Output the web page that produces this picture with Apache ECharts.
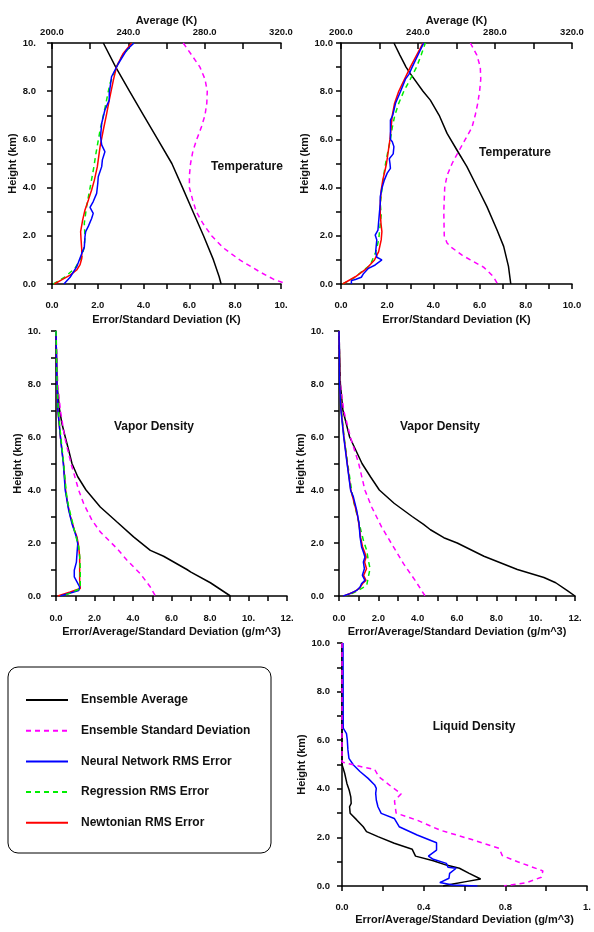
<!DOCTYPE html>
<html>
<head>
<meta charset="utf-8">
<script src="https://cdn.jsdelivr.net/npm/echarts@6/dist/echarts.min.js"></script>
<style>html,body{margin:0;padding:0;background:#fff}#c{width:594px;height:932px}</style>
</head>
<body>
<div id="c"></div>
<script>
// ---------------- DATA ----------------
const seriesNames = ['Ensemble Average', 'Ensemble Standard Deviation', 'Neural Network RMS Error', 'Regression RMS Error', 'Newtonian RMS Error'];
const panelTitles = ['Temperature', 'Temperature', 'Vapor Density', 'Vapor Density', 'Liquid Density'];

// tick labels
const tlErrTicks = ['0.0', '2.0', '4.0', '6.0', '8.0', '10.'];
const trErrTicks = ['0.0', '2.0', '4.0', '6.0', '8.0', '10.0'];
const avgKTicks = ['200.0', '240.0', '280.0', '320.0'];
const vaporTicks = ['0.0', '2.0', '4.0', '6.0', '8.0', '10.', '12.'];
const liquidTicks = ['0.0', '0.4', '0.8', '1.'];
const heightTicksA = ['0.0', '2.0', '4.0', '6.0', '8.0', '10.'];
const heightTicksB = ['0.0', '2.0', '4.0', '6.0', '8.0', '10.0'];

// Temperature, left panel
const tlAvgH = [10, 9, 8, 7, 6, 5, 4, 3, 2, 1, 0.3, 0];
const tlAvgK = [226.9, 233.4, 240.6, 248.0, 255.4, 262.8, 268.4, 273.9, 279.4, 284.6, 287.6, 288.6];
const tlStdH = [10, 9.5, 9, 8.5, 8, 7.5, 7, 6.5, 6, 5.5, 5, 4.5, 4, 3.5, 3, 2.5, 2, 1.5, 1, 0.5, 0.2, 0.05, 0];
const tlStd = [5.73, 6.1, 6.46, 6.68, 6.78, 6.76, 6.68, 6.52, 6.32, 6.15, 6.05, 6.0, 6.0, 6.14, 6.3, 6.6, 6.97, 7.48, 8.2, 9.08, 9.67, 10.1, 10.6];
const tlNnH = [0, 0.28, 0.72, 0.89, 1.27, 1.52, 1.96, 2.17, 2.4, 2.72, 2.93, 3.18, 3.42, 3.76, 4.18, 4.45, 4.87, 5.15, 5.49, 5.77, 6.12, 6.67, 7.22, 7.63, 7.91, 8.6, 9.15, 9.71, 10];
const tlNn = [0.52, 0.79, 1.08, 1.15, 1.3, 1.41, 1.44, 1.47, 1.59, 1.73, 1.8, 1.66, 1.8, 1.95, 2.0, 2.02, 2.17, 2.2, 2.31, 2.17, 2.12, 2.17, 2.31, 2.5, 2.5, 2.6, 2.9, 3.26, 3.58];
const tlRegH = [0, 0.3, 0.65, 1.13, 1.55, 1.96, 2.52, 3.21, 3.62, 4.18, 4.87, 5.42, 6.39, 7.29, 8.32, 9.02, 9.43, 10];
const tlReg = [0.06, 0.57, 1.0, 1.3, 1.41, 1.44, 1.41, 1.51, 1.59, 1.7, 1.83, 1.92, 2.1, 2.31, 2.53, 2.82, 3.04, 3.55];
const tlNewH = [0, 0.17, 0.37, 0.58, 0.79, 1.06, 1.41, 1.83, 2.17, 2.66, 3.07, 3.49, 3.9, 4.31, 4.87, 5.15, 5.7, 6.39, 7.08, 7.63, 8.46, 9.02, 9.57, 10];
const tlNew = [0.1, 0.42, 0.79, 1.08, 1.22, 1.3, 1.3, 1.27, 1.25, 1.34, 1.44, 1.59, 1.73, 1.85, 1.98, 2.02, 2.1, 2.24, 2.39, 2.5, 2.68, 2.82, 3.11, 3.48];

// Temperature, right panel
const trAvgH = [10, 9.5, 9, 8.73, 8, 7.63, 7, 6.25, 5.56, 4.87, 3.9, 3.21, 2.25, 1.56, 0.73, 0];
const trAvgK = [227.5, 230.6, 233.8, 236.0, 242.6, 246.4, 251.0, 255.1, 260.2, 265.4, 271.5, 275.8, 281.0, 284.5, 287.0, 288.2];
const trStdH = [10, 9.5, 9, 8.5, 8, 7.5, 7, 6.5, 6, 5.5, 5, 4.5, 4, 3, 2, 1.7, 1.5, 1.2, 1, 0.7, 0.5, 0.3, 0];
const trStd = [5.6, 5.88, 6.03, 6.05, 6.0, 5.92, 5.81, 5.67, 5.38, 5.09, 4.81, 4.59, 4.49, 4.45, 4.47, 4.59, 4.81, 5.24, 5.6, 6.17, 6.39, 6.6, 6.78];
const trNnH = [0, 0.14, 0.19, 0.28, 0.44, 0.65, 0.72, 0.79, 1.0, 1.11, 1.34, 1.83, 2.03, 2.24, 2.59, 3.35, 3.62, 3.97, 4.32, 4.6, 4.8, 5.0, 5.2, 5.4, 5.7, 5.9, 6.0, 6.8, 7.0, 7.5, 8.0, 8.5, 8.7, 9.0, 10];
const trNn = [0.45, 0.45, 0.62, 0.88, 0.98, 1.19, 1.19, 1.48, 1.77, 1.55, 1.5, 1.55, 1.48, 1.6, 1.63, 1.7, 1.7, 1.77, 1.88, 2.0, 2.14, 2.12, 2.09, 2.26, 2.29, 2.22, 2.14, 2.14, 2.24, 2.36, 2.58, 2.79, 2.94, 3.08, 3.58];
const trRegH = [0, 0.24, 0.51, 0.79, 1.34, 1.83, 2.86, 3.35, 3.9, 4.45, 5, 5.5, 6, 6.5, 7, 7.5, 8, 8.5, 9, 9.5, 10];
const trReg = [0.07, 0.55, 0.9, 1.27, 1.51, 1.63, 1.74, 1.7, 1.77, 1.84, 1.93, 2.03, 2.14, 2.22, 2.33, 2.5, 2.72, 3.0, 3.27, 3.47, 3.65];
const trNewH = [0, 0.3, 0.65, 1.0, 1.34, 1.83, 2.17, 2.52, 2.93, 3.35, 3.9, 4.32, 4.73, 5, 6, 6.5, 7, 7.5, 8, 9, 10];
const trNew = [0.07, 0.62, 1.12, 1.45, 1.63, 1.74, 1.77, 1.73, 1.7, 1.7, 1.74, 1.81, 1.91, 1.97, 2.12, 2.17, 2.22, 2.32, 2.5, 3.0, 3.55];

// Vapor density, left panel
const mlAvgH = [10, 8, 7, 6.5, 6, 5.5, 5, 4.5, 4, 3.36, 2.79, 2.23, 1.72, 1.5, 1, 0.9, 0.5, 0];
const mlAvg = [0, 0.05, 0.19, 0.31, 0.48, 0.66, 0.83, 1.13, 1.56, 2.3, 3.17, 4.03, 4.9, 5.59, 6.8, 7.01, 8.02, 9.06];
const mlStdH = [10, 8, 7, 6, 5, 3.99, 3.48, 2.86, 2.42, 1.79, 1.35, 0.84, 0.34, 0];
const mlStd = [0, 0.09, 0.23, 0.45, 0.78, 1.18, 1.44, 1.87, 2.3, 3.17, 3.69, 4.38, 4.9, 5.16];
const mlNnH = [10, 8, 7, 6, 5, 3.99, 3.74, 3.23, 2.73, 2.23, 1.97, 1.6, 1.28, 0.97, 0.72, 0.53, 0.34, 0.21, 0];
const mlNn = [0, 0.05, 0.1, 0.23, 0.38, 0.48, 0.54, 0.66, 0.83, 1.06, 1.13, 1.09, 1.06, 0.95, 0.95, 1.09, 1.23, 1.18, 0.23];
const mlRegH = [10, 8, 7, 6, 5, 3.86, 3.36, 2.86, 2.35, 1.85, 1.5, 1.0, 0.5, 0.28, 0.11, 0];
const mlReg = [0, 0.06, 0.12, 0.25, 0.4, 0.54, 0.66, 0.83, 1.0, 1.18, 1.23, 1.26, 1.26, 1.26, 0.74, 0.31];
const mlNewH = [10, 8, 7, 6, 5, 4, 3.5, 3, 2.5, 2.23, 1.85, 1.47, 0.97, 0.59, 0.28, 0.15, 0];
const mlNew = [0, 0.05, 0.1, 0.23, 0.39, 0.5, 0.6, 0.75, 0.95, 1.09, 1.18, 1.23, 1.23, 1.23, 1.26, 0.74, 0.09];

// Vapor density, right panel
const mrAvgH = [10, 8, 7, 6, 5, 4.5, 4, 3.5, 3, 2.7, 2.5, 2.2, 2, 1.5, 1, 0.7, 0.5, 0.2, 0];
const mrAvg = [0, 0.07, 0.2, 0.54, 1.17, 1.6, 2.05, 2.8, 3.72, 4.3, 4.65, 5.33, 6.01, 7.37, 9.07, 10.42, 11.02, 11.61, 12.0];
const mrStdH = [10, 8, 7, 6, 5, 3.99, 3.36, 2.6, 1.85, 1.22, 0.59, 0];
const mrStd = [0, 0.07, 0.24, 0.58, 1.0, 1.32, 1.66, 2.17, 2.77, 3.28, 3.87, 4.38];
const mrNnH = [10, 8, 7, 6, 5, 3.99, 3.74, 3.23, 2.73, 2.23, 1.85, 1.66, 1.47, 1.28, 1.03, 0.78, 0.59, 0.47, 0.34, 0.21, 0.09, 0];
const mrNn = [0, 0.03, 0.1, 0.24, 0.41, 0.59, 0.73, 0.9, 1.02, 1.07, 1.15, 1.24, 1.32, 1.24, 1.29, 1.19, 1.32, 1.15, 1.07, 0.9, 0.56, 0.22];
const mrRegH = [10, 8, 7, 6, 5, 3.99, 3.61, 3.11, 2.6, 2.1, 1.72, 1.35, 1.03, 0.72, 0.4, 0.21, 0.09, 0];
const mrReg = [0, 0.05, 0.12, 0.26, 0.44, 0.64, 0.73, 0.9, 1.07, 1.24, 1.41, 1.49, 1.58, 1.49, 1.41, 0.98, 0.65, 0.31];
const mrNewH = [10, 8, 7, 6, 5, 4, 3.5, 3, 2.5, 2.2, 1.85, 1.66, 1.47, 1.28, 1.03, 0.78, 0.59, 0.47, 0.3, 0.15, 0];
const mrNew = [0, 0.04, 0.11, 0.25, 0.42, 0.6, 0.78, 0.95, 1.05, 1.1, 1.2, 1.3, 1.38, 1.3, 1.4, 1.25, 1.37, 1.2, 1.05, 0.75, 0.25];

// Liquid density
const brAvgH = [10, 5.0, 4.64, 4.22, 3.95, 3.67, 3.4, 3.26, 2.99, 2.72, 2.44, 2.24, 2.03, 1.76, 1.51, 1.23, 1.04, 0.86, 0.73, 0.52, 0.29, 0.18, 0.08, 0];
const brAvg = [0, 0, 0.013, 0.024, 0.035, 0.043, 0.045, 0.037, 0.04, 0.072, 0.104, 0.12, 0.176, 0.256, 0.344, 0.36, 0.447, 0.511, 0.575, 0.623, 0.679, 0.607, 0.543, 0.495];
const brStdH = [10, 5.1, 4.9, 4.8, 4.5, 4.1, 3.8, 3.5, 3.0, 2.7, 2.3, 1.9, 1.55, 1.25, 1.0, 0.62, 0.36, 0.14, 0];
const brStd = [0, 0, 0.1, 0.16, 0.18, 0.24, 0.29, 0.257, 0.265, 0.37, 0.48, 0.64, 0.77, 0.785, 0.86, 0.984, 0.976, 0.904, 0.793];
const brNnH = [10, 6.5, 6.27, 6.0, 5.6, 5.25, 4.98, 4.71, 4.43, 4.16, 4.02, 3.81, 3.54, 3.26, 2.99, 2.78, 2.44, 2.1, 1.78, 1.48, 1.23, 1.1, 0.93, 0.77, 0.73, 0.52, 0.32, 0.14, 0.08, 0.04, 0];
const brNn = [0.005, 0.006, 0.022, 0.026, 0.029, 0.034, 0.056, 0.088, 0.128, 0.16, 0.168, 0.165, 0.168, 0.176, 0.192, 0.256, 0.28, 0.368, 0.463, 0.463, 0.423, 0.447, 0.511, 0.519, 0.559, 0.527, 0.524, 0.479, 0.471, 0.543, 0.663];

// ---------------- CHART ----------------
const FONT = '"Liberation Sans", Arial, Helvetica, sans-serif';
const INK = '#111';
const COLORS = ['#000000', '#ff00ff', '#0000ff', '#00ee00', '#ff0000'];

function fmt(labels, base, step) {
  return function (v) {
    const i = Math.round((v - base) / step);
    return (Math.abs(v - base - i * step) < 1e-6 && i >= 0 && i < labels.length) ? labels[i] : '';
  };
}
const labelStyle = { color: INK, fontSize: 9.5, fontWeight: 'bold', fontFamily: FONT };
const nameStyle = { color: INK, fontSize: 11, fontWeight: 'bold', fontFamily: FONT };
const lineAx = { show: true, onZero: false, lineStyle: { color: '#000', width: 1.5 } };

function xAxisBottom(grid, max, interval, labels, step, name, margin, gap) {
  return {
    type: 'value', gridIndex: grid, position: 'bottom', min: 0, max: max, interval: interval,
    axisLine: lineAx,
    axisTick: { show: true, length: 5, lineStyle: { color: '#000', width: 1.5 } },
    axisLabel: Object.assign({ formatter: fmt(labels, 0, step), margin: margin }, labelStyle),
    splitLine: { show: false },
    name: name, nameLocation: 'middle', nameGap: gap, nameTextStyle: nameStyle
  };
}
function xAxisTop(grid) {
  return {
    type: 'value', gridIndex: grid, position: 'top', min: 200, max: 320, interval: 20,
    axisLine: lineAx,
    axisTick: { show: true, inside: true, length: 6, lineStyle: { color: '#000', width: 1.5 } },
    axisLabel: Object.assign({ formatter: fmt(avgKTicks, 200, 40), margin: 6 }, labelStyle),
    splitLine: { show: false },
    name: 'Average (K)', nameLocation: 'middle', nameGap: 17, nameTextStyle: nameStyle
  };
}
function yAxisLeft(grid, labels, margin, gap) {
  return {
    type: 'value', gridIndex: grid, position: 'left', min: 0, max: 10, interval: 1,
    axisLine: lineAx,
    axisTick: { show: true, length: 5, lineStyle: { color: '#000', width: 1.5 } },
    axisLabel: Object.assign({ formatter: fmt(labels, 0, 2), margin: margin }, labelStyle),
    splitLine: { show: false },
    name: 'Height (km)', nameLocation: 'middle', nameGap: gap, nameTextStyle: nameStyle
  };
}

function line(k, xi, yi, hs, vs, extra) {
  const dashed = (k === 1 || k === 3);
  return Object.assign({
    name: seriesNames[k], type: 'line', xAxisIndex: xi, yAxisIndex: yi,
    data: hs.map(function (h, i) { return [vs[i], h]; }),
    symbol: 'none', showSymbol: false, silent: true, animation: false,
    lineStyle: { color: COLORS[k], width: 1.5, type: dashed ? [5, 4] : 'solid' },
    itemStyle: { color: COLORS[k] }
  }, extra || {});
}

const option = {
  backgroundColor: '#fff',
  animation: false,
  grid: [
    { left: 52, top: 43, width: 229, height: 241 },
    { left: 341, top: 43, width: 231, height: 241 },
    { left: 56, top: 331, width: 231, height: 265 },
    { left: 339, top: 331, width: 236, height: 265 },
    { left: 342, top: 643, width: 250, height: 243 }
  ],
  xAxis: [
    xAxisBottom(0, 10, 1, tlErrTicks, 2, 'Error/Standard Deviation (K)', 16, 30),
    xAxisTop(0),
    xAxisBottom(1, 10, 1, trErrTicks, 2, 'Error/Standard Deviation (K)', 16, 30),
    xAxisTop(1),
    xAxisBottom(2, 12, 1, vaporTicks, 2, 'Error/Average/Standard Deviation (g/m^3)', 17, 30),
    xAxisBottom(3, 12, 1, vaporTicks, 2, 'Error/Average/Standard Deviation (g/m^3)', 17, 30),
    xAxisBottom(4, 1.2, 0.2, liquidTicks, 0.4, 'Error/Average/Standard Deviation (g/m^3)', 16, 28)
  ],
  yAxis: [
    yAxisLeft(0, heightTicksA, 16, 32),
    yAxisLeft(1, heightTicksB, 8, 30),
    yAxisLeft(2, heightTicksA, 15, 30),
    yAxisLeft(3, heightTicksA, 15, 30),
    yAxisLeft(4, heightTicksB, 12, 32)
  ],
  legend: {
    orient: 'vertical', left: 20, top: 689, itemWidth: 42, itemHeight: 14, itemGap: 18.7,
    selectedMode: false, data: seriesNames,
    itemStyle: { opacity: 0 },
    lineStyle: { width: 2 },
    textStyle: { color: INK, fontSize: 12, fontWeight: 'bold', fontFamily: FONT, padding: [0, 0, 0, 8] }
  },
  graphic: [
    { type: 'rect', z: -1, shape: { x: 8, y: 667, width: 263, height: 186, r: 10 }, style: { fill: 'none', stroke: '#000', lineWidth: 1 } },
    { type: 'text', x: 247, y: 167, style: { text: panelTitles[0], align: 'center', verticalAlign: 'middle', fontSize: 12, fontWeight: 'bold', fontFamily: FONT, fill: INK } },
    { type: 'text', x: 515, y: 153, style: { text: panelTitles[1], align: 'center', verticalAlign: 'middle', fontSize: 12, fontWeight: 'bold', fontFamily: FONT, fill: INK } },
    { type: 'text', x: 154, y: 427, style: { text: panelTitles[2], align: 'center', verticalAlign: 'middle', fontSize: 12, fontWeight: 'bold', fontFamily: FONT, fill: INK } },
    { type: 'text', x: 440, y: 427, style: { text: panelTitles[3], align: 'center', verticalAlign: 'middle', fontSize: 12, fontWeight: 'bold', fontFamily: FONT, fill: INK } },
    { type: 'text', x: 474, y: 727, style: { text: panelTitles[4], align: 'center', verticalAlign: 'middle', fontSize: 12, fontWeight: 'bold', fontFamily: FONT, fill: INK } }
  ],
  series: [
    // Temperature left
    line(1, 0, 0, tlStdH, tlStd, { clip: false }),
    line(0, 1, 0, tlAvgH, tlAvgK),
    line(3, 0, 0, tlRegH, tlReg),
    line(4, 0, 0, tlNewH, tlNew),
    line(2, 0, 0, tlNnH, tlNn),
    // Temperature right
    line(1, 2, 1, trStdH, trStd),
    line(0, 3, 1, trAvgH, trAvgK),
    line(3, 2, 1, trRegH, trReg),
    line(4, 2, 1, trNewH, trNew),
    line(2, 2, 1, trNnH, trNn),
    // Vapor left
    line(0, 4, 2, mlAvgH, mlAvg),
    line(1, 4, 2, mlStdH, mlStd),
    line(4, 4, 2, mlNewH, mlNew),
    line(2, 4, 2, mlNnH, mlNn),
    line(3, 4, 2, mlRegH, mlReg),
    // Vapor right
    line(0, 5, 3, mrAvgH, mrAvg),
    line(1, 5, 3, mrStdH, mrStd),
    line(3, 5, 3, mrRegH, mrReg),
    line(4, 5, 3, mrNewH, mrNew),
    line(2, 5, 3, mrNnH, mrNn),
    // Liquid
    line(0, 6, 4, brAvgH, brAvg),
    line(2, 6, 4, brNnH, brNn),
    line(1, 6, 4, brStdH, brStd)
  ]
};

const chart = echarts.init(document.getElementById('c'), null, { renderer: 'canvas' });
chart.setOption(option);
</script>
</body>
</html>
